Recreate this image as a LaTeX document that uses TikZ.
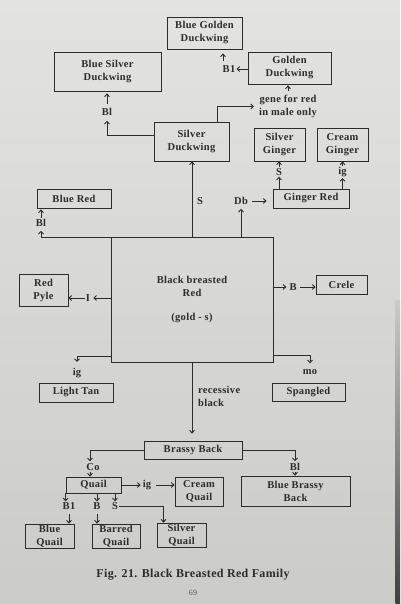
\documentclass[tikz,border=0pt]{standalone}
\usepackage{fontspec}
\setmainfont{Liberation Serif}[LetterSpace=3.0]
\usetikzlibrary{arrows.meta,calc}
\definecolor{paperTop}{HTML}{E3E3E0}
\definecolor{paperBot}{HTML}{CBCCC8}
\definecolor{ink}{HTML}{2C2C2C}
\begin{document}
\begin{tikzpicture}[x=1pt,y=-1pt,
  font=\bfseries\fontsize{10.5}{13}\selectfont,
  box/.style={draw=ink, line width=0.9pt, text=ink, align=center, inner sep=0pt},
  lbl/.style={text=ink, inner sep=1pt, align=center},
  con/.style={draw=ink, line width=0.9pt, -{Straight Barb[length=2.6pt,width=5pt]}}]
\useasboundingbox (0,0) rectangle (400,604);
\fill[top color=paperTop, bottom color=paperBot] (0,0) rectangle (400,604);
\fill[top color=paperBot, bottom color=black!75] (395.5,300) rectangle (400,604);

% boxes
\node[box, minimum width=75pt, minimum height=32pt] (bgd) at (204.5,33) {Blue Golden\\Duckwing};
\node[box, minimum width=107pt, minimum height=39pt] (bsd) at (107.5,71.5) {Blue Silver\\Duckwing};
\node[box, minimum width=83pt, minimum height=32pt] (gd) at (289.5,68) {Golden\\Duckwing};
\node[box, minimum width=75pt, minimum height=39pt] (sd) at (191.5,141.5) {Silver\\Duckwing};
\node[box, minimum width=51pt, minimum height=33pt] (sg) at (279.5,144.5) {Silver\\Ginger};
\node[box, minimum width=51pt, minimum height=33pt] (cg) at (342.5,144.5) {Cream\\Ginger};
\node[box, minimum width=74pt, minimum height=19pt] (br) at (74,198.5) {Blue Red};
\node[box, minimum width=76pt, minimum height=19pt] (gr) at (311,198.5) {Ginger Red};
\node[box, minimum width=162pt, minimum height=125pt] (main) at (192,299.5) {Black breasted\\Red\\[11pt](gold - s)};
\node[box, minimum width=49pt, minimum height=32pt] (rp) at (43.5,290) {Red\\Pyle};
\node[box, minimum width=51pt, minimum height=19pt] (crele) at (341.5,284.5) {Crele};
\node[box, minimum width=74pt, minimum height=19pt] (lt) at (76,392.5) {Light Tan};
\node[box, minimum width=73pt, minimum height=18pt] (spg) at (308.5,392) {Spangled};
\node[box, minimum width=98pt, minimum height=18pt] (bb) at (193,450) {Brassy Back};
\node[box, minimum width=55pt, minimum height=16pt] (q) at (93.5,485) {Quail};
\node[box, minimum width=48pt, minimum height=29pt] (cq) at (199,491.5) {Cream\\Quail};
\node[box, minimum width=109pt, minimum height=30pt] (bbb) at (295.5,491) {Blue Brassy\\Back};
\node[box, minimum width=49pt, minimum height=24pt] (bq) at (49.5,536) {Blue\\Quail};
\node[box, minimum width=48pt, minimum height=24pt] (barq) at (116,536) {Barred\\Quail};
\node[box, minimum width=49pt, minimum height=24pt] (sq) at (181.5,535) {Silver\\Quail};

% labels
\node[lbl] (lBg) at (229,69) {B1};
\node[lbl] (lgene) at (288,106.5) {gene for red\\in male only};
\node[lbl] (lBls) at (107,112) {Bl};
\node[lbl] (lS) at (200,201) {S};
\node[lbl] (lDb) at (241,201) {Db};
\node[lbl] (lSg) at (279,172) {S};
\node[lbl] (lig) at (342.5,172) {ig};
\node[lbl] (lBlr) at (41,223) {Bl};
\node[lbl] (lI) at (88,298) {I};
\node[lbl] (lB) at (293,287) {B};
\node[lbl] (lig1) at (77,373) {ig};
\node[lbl] (lmo) at (310,372) {mo};
\node[lbl, anchor=north west, align=left] (lrb) at (197,385) {recessive\\black};
\node[lbl] (lCo) at (93,467) {Co};
\node[lbl] (lBlb) at (295,467) {Bl};
\node[lbl] (lig2) at (147,485) {ig};
\node[lbl] (lB1q) at (69,506) {B1};
\node[lbl] (lBq) at (97,506) {B};
\node[lbl] (lSq) at (115,506) {S};
\node[lbl, font=\bfseries\fontsize{12}{14}\selectfont] (cap) at (193,575) {Fig. 21. Black Breasted Red Family};
\node[lbl, font=\fontsize{8}{10}\selectfont, text=ink!80] (pg) at (193,593) {69};

% connectors
\draw[con] (main.north) -- (main.north |- sd.south);
\draw[con, shorten >=3pt] (main.north -| lDb) -- (lDb.south);
\draw[con, shorten <=3pt, shorten >=6pt] (lDb.east) -- (gr.west |- lDb.east);
\draw[con] (gr.north -| lSg) -- (lSg.south);
\draw[con] (lSg.north) -- (lSg.north |- sg.south);
\draw[con] (gr.north -| lig) -- (lig.south);
\draw[con] (lig.north) -- (lig.north |- cg.south);
\draw[con, shorten >=4pt] ([yshift=6.5pt]sd.west) -| (lBls.south);
\draw[con, shorten <=3pt, shorten >=2pt] (lBls.north) -- (lBls.north |- bsd.south);
\draw[con, shorten >=4pt] ([xshift=25.5pt]sd.north) |- (lgene.west);
\draw[con, shorten <=3pt, shorten >=1pt] (lgene.north) -- (lgene.north |- gd.south);
\draw[con] (gd.west |- lBg) -- (lBg.east);
\draw[con, shorten <=3pt, shorten >=4pt] ([xshift=-6pt]lBg.north) -- ([xshift=-6pt]lBg.north |- bgd.south);
\draw[con, shorten >=3pt] ([yshift=-1pt]main.north west) -| (lBlr.south);
\draw[con, shorten >=1pt] (lBlr.north) -- (lBlr.north |- br.south);
\draw[con, shorten >=2pt] (main.west |- lI) -- (lI.east);
\draw[con] (lI.west) -- (rp.east |- lI);
\draw[con, shorten >=2pt] (main.east |- lB) -- (lB.west);
\draw[con, shorten <=2pt] (lB.east) -- (crele.west |- lB.east);
\draw[con, shorten >=5pt] ([yshift=6pt]main.south west) -| (lig1.north);
\draw[con, shorten >=5pt] ([yshift=7pt]main.south east) -| (lmo.north);
\draw[con, shorten >=7pt] (main.south) -- (main.south |- bb.north);
\draw[con, shorten >=1pt] (bb.west) -| ([xshift=-3pt]lCo.north);
\draw[con] ([xshift=-3pt]lCo.south) -- ([xshift=-3pt]lCo.south |- q.north);
\draw[con, shorten >=1pt] (bb.east) -| (lBlb.north);
\draw[con] (lBlb.south) -- (lBlb.south |- bbb.north);
\draw[con, shorten >=1pt] (q.east) -- (lig2.west);
\draw[con, shorten <=4pt] (lig2.east) -- (cq.west |- lig2.east);
\draw[con] (q.south west) -- (q.south west |- lB1q.north);
\draw[con, shorten <=3pt] (lB1q.south) -- (lB1q.south |- bq.north);
\draw[con] (q.south -| lBq) -- (lBq.north);
\draw[con, shorten <=3pt] (lBq.south) -- (lBq.south |- barq.north);
\draw[con] (q.south -| lSq) -- (lSq.north);
\draw[con] (lSq.east) -| ([xshift=-18pt]sq.north);
\end{tikzpicture}
\end{document}
